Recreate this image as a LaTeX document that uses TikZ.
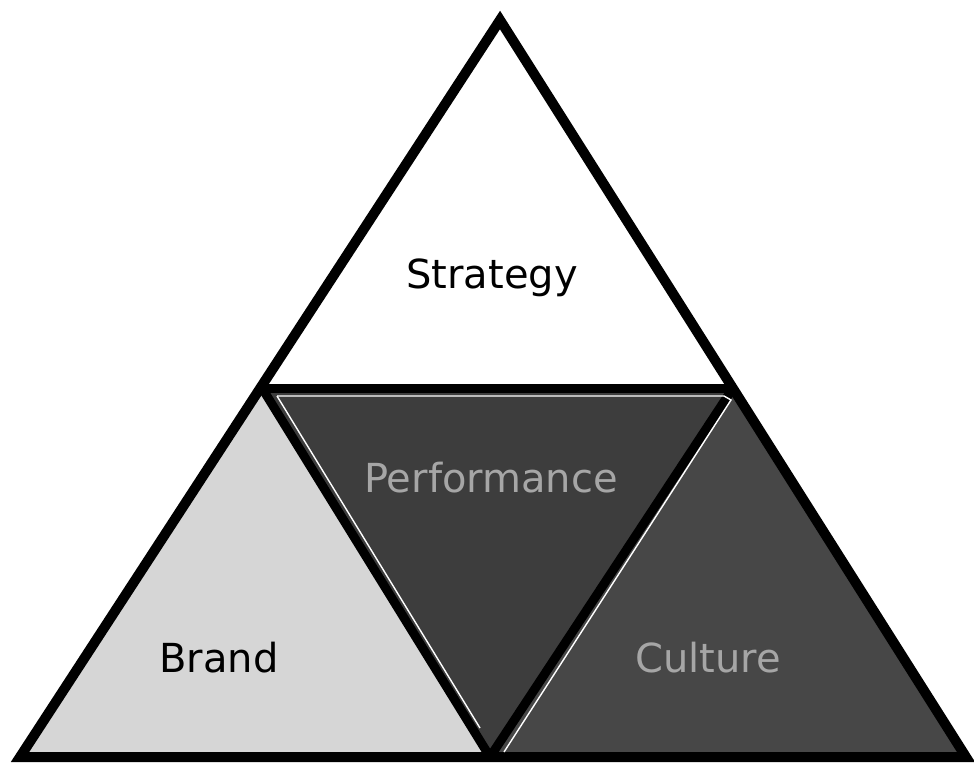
\documentclass[tikz,border=0pt]{standalone}
\usepackage{fontspec}
\setmainfont{DejaVu Sans}
\usetikzlibrary{calc,positioning}

\begin{document}
\begin{tikzpicture}[
    x=0.5pt, y=-0.5pt, font=\fontsize{20}{24}\selectfont,
    edge/.style={line width=4.5pt, line join=miter},
    rim/.style={line width=0.7pt, white},
    label/.style={anchor=base},
    hollow/.style={anchor=base, text=black!35}]

    \useasboundingbox (0,0) rectangle (974,766);

    % vertices

    \coordinate (top) at (500,20);
    \coordinate (ml) at (262,388);
    \coordinate (mr) at (733,388);
    \coordinate (bl) at (20,757);
    \coordinate (bm) at (490,757);
    \coordinate (br) at (966,757);

    % faces

    \fill[white] (top) -- (ml) -- (mr) -- cycle;
    \fill[black!16] (ml) -- (bl) -- (bm) -- cycle;
    \fill[black!76] (ml) -- (mr) -- (bm) -- cycle;
    \fill[black!72] (mr) -- (br) -- (bm) -- cycle;

    % edges

    \draw[edge] (ml) to (mr);
    \draw[edge] (ml) to (bm);
    \draw[edge] (mr) to (bm);
    \draw[edge, line width=5pt] (top) -- (bl) -- (br) -- cycle;

    \draw[rim] (277,396) -- (724,396) -- (731,400) -- (504,752);
    \draw[rim] (277,396) -- (480,728);

    % labels

    \node[label] (strategy) at (492,288) {Strategy};
    \node[hollow] (performance) at (491,492) {Performance};
    \node[label] (brand) at (219,672) {Brand};
    \node[hollow] (culture) at (708,672) {Culture};
  \end{tikzpicture}
\end{document}
